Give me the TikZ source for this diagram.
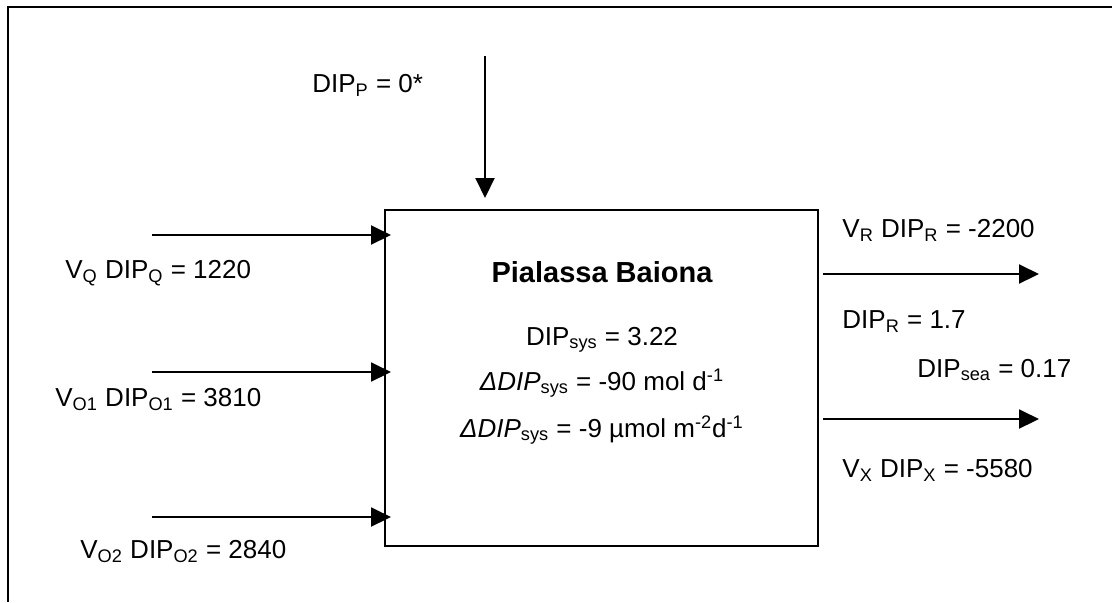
\documentclass[tikz,border=0pt]{standalone}
\usepackage{fontspec}
\setmainfont{Liberation Sans}
\usepackage{tikz}
\usetikzlibrary{arrows.meta}

\tikzset{
  flow/.style={line width=1pt, -{Triangle[length=10pt,width=9.5pt]}},
  lbl/.style={anchor=base west, inner sep=0pt},
  boxtxt/.style={anchor=base, inner sep=0pt}
}

\begin{document}
\begin{tikzpicture}[x=0.5pt,y=-0.5pt,font=\fontsize{13}{16}\selectfont]
  \useasboundingbox (0,0) rectangle (1112,602);
  % open frame
  \draw[line width=1.2pt] (8,602) -- (8,7) -- (1112,7);

  % the lagoon box
  \node[draw, line width=1pt, minimum width=433*0.5pt, minimum height=336*0.5pt,
        inner sep=0pt] (lagoon) at (601.5,378) {};
  \node[boxtxt, font=\fontsize{14.5}{17}\selectfont\bfseries] (name) at (602,282) {Pialassa Baiona};
  \node[boxtxt] (dipsys) at (602,345) {DIP\textsubscript{sys} = 3.22};
  \node[boxtxt] (dmol) at (602,390) {\textit{ΔDIP}\textsubscript{sys} = -90 mol d\textsuperscript{-1}};
  \node[boxtxt] (dumol) at (602,437) {\textit{ΔDIP}\textsubscript{sys} = -9 µmol m\textsuperscript{-2}d\textsuperscript{-1}};

  % inputs
  \coordinate (pin) at (485,56);
  \coordinate (qin) at (152,235);
  \coordinate (o1in) at (152,372);
  \coordinate (o2in) at (152,517);
  \draw[flow, shorten >=5.5pt] (pin) -- (pin |- lagoon.north);
  \draw[flow, shorten >=-3.5pt] (qin) -- (qin -| lagoon.west);
  \draw[flow, shorten >=-3.5pt] (o1in) -- (o1in -| lagoon.west);
  \draw[flow, shorten >=-3.5pt] (o2in) -- (o2in -| lagoon.west);

  % outputs
  \coordinate (rout) at (1039,274);
  \coordinate (xout) at (1039,419);
  \draw[flow, shorten <=2pt] (rout -| lagoon.east) -- (rout);
  \draw[flow, shorten <=2pt] (xout -| lagoon.east) -- (xout);

  % flux labels
  \node[lbl] (dipp) at (312,92) {DIP\textsubscript{P} = 0*};
  \node[lbl] (vq) at (65,278) {V\textsubscript{Q} DIP\textsubscript{Q} = 1220};
  \node[lbl] (vo1) at (55,406) {V\textsubscript{O1} DIP\textsubscript{O1} = 3810};
  \node[lbl] (vo2) at (80,558) {V\textsubscript{O2} DIP\textsubscript{O2} = 2840};
  \node[lbl] (vr) at (842,237) {V\textsubscript{R} DIP\textsubscript{R} = -2200};
  \node[lbl] (dipr) at (842,328) {DIP\textsubscript{R} = 1.7};
  \node[lbl] (dipsea) at (917,377) {DIP\textsubscript{sea} = 0.17};
  \node[lbl] (vx) at (842,477) {V\textsubscript{X} DIP\textsubscript{X} = -5580};
\end{tikzpicture}
\end{document}
